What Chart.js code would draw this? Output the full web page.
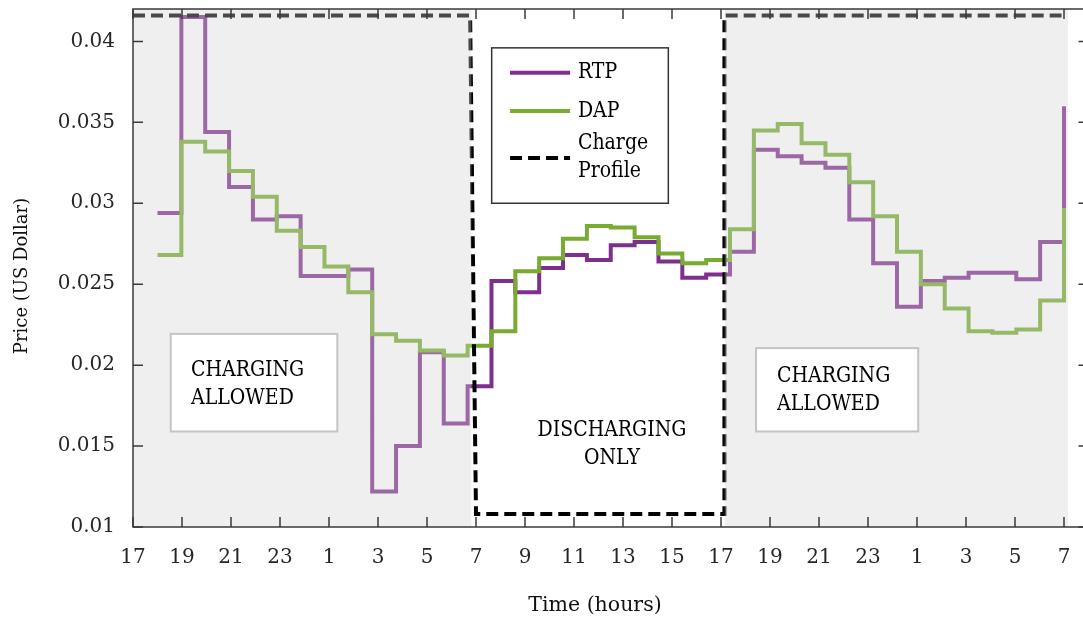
<!DOCTYPE html>
<html>
<head>
<meta charset="utf-8">
<script src="https://cdn.jsdelivr.net/npm/chart.js@4.4.1/dist/chart.umd.min.js"></script>
<style>
  html, body { margin: 0; padding: 0; background: #fff; overflow: hidden; }
  #wrap { width: 1090px; height: 624px; }
</style>
</head>
<body>
<div id="wrap"><canvas id="priceChart" width="1090" height="624"></canvas></div>
<script>
// Prices sampled over 38 hours starting at 18:00 (hours counted from 17:00)
const firstSampleHour = 1;
const sampleSpacing = 37 / 38;

const rtp = [0.0294, 0.0415, 0.0344, 0.0310, 0.0290, 0.0292, 0.0255, 0.0255, 0.0259, 0.0122,
             0.0150, 0.0208, 0.0164, 0.0187, 0.0252, 0.0245, 0.0260, 0.0268, 0.0265, 0.0274,
             0.0276, 0.0264, 0.0254, 0.0256, 0.0270, 0.0333, 0.0329, 0.0325, 0.0322, 0.0290,
             0.0263, 0.0236, 0.0252, 0.0254, 0.0257, 0.0257, 0.0253, 0.0276, 0.0360];
const dap = [0.0268, 0.0338, 0.0332, 0.0320, 0.0304, 0.0283, 0.0273, 0.0261, 0.0245, 0.0219,
             0.0215, 0.0209, 0.0206, 0.0212, 0.0221, 0.0258, 0.0266, 0.0278, 0.0286, 0.0285,
             0.0279, 0.0269, 0.0263, 0.0265, 0.0284, 0.0345, 0.0349, 0.0337, 0.0330, 0.0313,
             0.0292, 0.0270, 0.0250, 0.0235, 0.0221, 0.0220, 0.0222, 0.0240, 0.0297];

// charge profile: high while charging is allowed, low while discharging only
const profileHours = [0, 13.76, 14.0, 24.14, 24.14, 37.9];
const profileLevels = [0.0416, 0.0416, 0.0108, 0.0108, 0.0416, 0.0416];

// hour spans shaded as "charging allowed"
const shadeSpans = [[0, 13.82], [24.14, 38.16]];

const hourMin = 0, hourMax = 39;
const priceMin = 0.01, priceMax = 0.042;
const startClock = 17;

const sampleHours = rtp.map((_, i) => firstSampleHour + i * sampleSpacing);
const toPoints = (xs, ys) => xs.map((x, i) => ({ x: x, y: ys[i] }));

const serif = 'DejaVu Serif';
const shadeColor = 'rgba(209,209,209,0.35)';

// text boxes and legend, placed in hour / price coordinates
const notes = [
  { box: [1.54, 0.02193, 8.34, 0.0159], at: [2.37, 0.01971], align: 'left', lines: ['CHARGING', 'ALLOWED'] },
  { box: [25.43, 0.02105, 32.05, 0.0159], at: [26.29, 0.0193], align: 'left', lines: ['CHARGING', 'ALLOWED'] },
  { box: null, at: [19.55, 0.0160], align: 'center', lines: ['DISCHARGING', 'ONLY'] }
];
const legendBox = [14.64, 0.0396, 21.85, 0.0300];
const legendItems = [
  { y: 0.03806, lines: ['RTP'] },
  { y: 0.03570, lines: ['DAP'] },
  { y: 0.03280, lines: ['Charge', 'Profile'] }
];
const legendLineFrom = 15.39, legendLineTo = 17.84, legendTextAt = 18.16;
const lineGap = 28;

// slightly narrowed serif text for the labels inside the plot
function noteText(ctx, text, x, y, align) {
  ctx.save();
  ctx.translate(x, y);
  ctx.scale(0.86, 1);
  ctx.textAlign = align;
  ctx.fillText(text, 0, 0);
  ctx.restore();
}

const decorPlugin = {
  id: 'decor',
  afterDatasetsDraw(chart) {
    const { ctx } = chart;
    const X = v => chart.scales.x.getPixelForValue(v);
    const Y = v => chart.scales.y.getPixelForValue(v);
    ctx.save();
    ctx.font = '22px "' + serif + '"';
    ctx.textBaseline = 'middle';

    notes.forEach(n => {
      if (n.box) {
        const x0 = X(n.box[0]), y0 = Y(n.box[1]), x1 = X(n.box[2]), y1 = Y(n.box[3]);
        ctx.fillStyle = '#fff';
        ctx.fillRect(x0, y0, x1 - x0, y1 - y0);
        ctx.strokeStyle = '#c4c4c4';
        ctx.lineWidth = 2;
        ctx.strokeRect(x0, y0, x1 - x0, y1 - y0);
      }
      ctx.fillStyle = '#000';
      n.lines.forEach((t, k) => noteText(ctx, t, X(n.at[0]), Y(n.at[1]) + k * lineGap, n.align));
    });

    // legend
    const lx0 = X(legendBox[0]), ly0 = Y(legendBox[1]), lx1 = X(legendBox[2]), ly1 = Y(legendBox[3]);
    ctx.fillStyle = '#fff';
    ctx.fillRect(lx0, ly0, lx1 - lx0, ly1 - ly0);
    ctx.strokeStyle = '#333';
    ctx.lineWidth = 1.5;
    ctx.strokeRect(lx0, ly0, lx1 - lx0, ly1 - ly0);
    legendItems.forEach((item, i) => {
      const ds = chart.data.datasets[i];
      const yy = Y(item.y);
      ctx.strokeStyle = ds.borderColor;
      ctx.lineWidth = ds.borderWidth;
      ctx.setLineDash(ds.borderDash || []);
      ctx.beginPath();
      ctx.moveTo(X(legendLineFrom), yy);
      ctx.lineTo(X(legendLineTo), yy);
      ctx.stroke();
      ctx.setLineDash([]);
      ctx.fillStyle = '#000';
      const first = yy - (item.lines.length - 1) * lineGap / 2 - (item.lines.length > 1 ? 1 : 0);
      item.lines.forEach((t, k) => noteText(ctx, t, X(legendTextAt), first + k * lineGap, 'left'));
    });
    ctx.restore();
  },
  afterDraw(chart) {
    const { ctx, chartArea: a } = chart;
    const xs = chart.scales.x, ys = chart.scales.y;
    ctx.save();
    ctx.strokeStyle = '#3a3a3a';
    ctx.lineWidth = 1.5;
    ctx.strokeRect(a.left, a.top, a.right - a.left, a.bottom - a.top);
    ctx.beginPath();
    xs.ticks.forEach(t => {
      const p = xs.getPixelForValue(t.value);
      ctx.moveTo(p, a.bottom); ctx.lineTo(p, a.bottom - 10);
      ctx.moveTo(p, a.top); ctx.lineTo(p, a.top + 10);
    });
    ys.ticks.forEach(t => {
      const p = ys.getPixelForValue(t.value);
      ctx.moveTo(a.left, p); ctx.lineTo(a.left + 10, p);
      ctx.moveTo(a.right, p); ctx.lineTo(a.right - 10, p);
    });
    ctx.stroke();

    // axis titles
    ctx.fillStyle = '#111';
    ctx.textAlign = 'center';
    ctx.textBaseline = 'middle';
    ctx.font = '20.5px "' + serif + '"';
    ctx.fillText('Time (hours)', 595, 606);
    ctx.font = '18px "' + serif + '"';
    ctx.translate(22, 276);
    ctx.rotate(-Math.PI / 2);
    ctx.fillText('Price (US Dollar)', 0, 0);
    ctx.restore();
  }
};

// fixed axis boxes so the plot area sits where it should
const noEdgePadding = s => {
  s.paddingTop = 0; s.paddingBottom = 0; s.paddingLeft = 0; s.paddingRight = 0;
};

new Chart(document.getElementById('priceChart'), {
  type: 'line',
  data: {
    datasets: [
      { label: 'RTP', data: toPoints(sampleHours, rtp), borderColor: '#7e2f8e', borderWidth: 4,
        stepped: 'before', pointRadius: 0, fill: false, order: 3 },
      { label: 'DAP', data: toPoints(sampleHours, dap), borderColor: '#77ac30', borderWidth: 4,
        stepped: 'before', pointRadius: 0, fill: false, order: 2 },
      { label: 'Charge Profile', data: toPoints(profileHours, profileLevels), borderColor: '#000',
        borderWidth: 4, borderDash: [12, 6], pointRadius: 0, fill: false, order: 1 },
      ...shadeSpans.map(span => ({
        label: 'shade', data: toPoints(span, [priceMax, priceMax]), borderWidth: 0,
        borderColor: 'rgba(0,0,0,0)', backgroundColor: shadeColor, fill: 'start', pointRadius: 0, order: 0
      }))
    ]
  },
  options: {
    responsive: false,
    animation: false,
    devicePixelRatio: 1,
    layout: { padding: { top: 9, right: 1.5, left: 0, bottom: 0 } },
    plugins: { legend: { display: false }, tooltip: { enabled: false } },
    scales: {
      x: {
        type: 'linear', min: hourMin, max: hourMax,
        grid: { display: false, drawTicks: false }, border: { display: false },
        afterFit: s => { s.height = 97; noEdgePadding(s); },
        ticks: {
          stepSize: 2, includeBounds: false, autoSkip: false, maxRotation: 0, padding: 19, color: '#262626',
          font: { family: serif, size: 20 },
          callback: v => String((startClock + v) % 24)
        }
      },
      y: {
        min: priceMin, max: priceMax,
        grid: { display: false, drawTicks: false }, border: { display: false },
        afterFit: s => { s.width = 133; noEdgePadding(s); },
        ticks: {
          stepSize: 0.005, includeBounds: false, padding: 18, color: '#262626',
          font: { family: serif, size: 20 },
          callback: v => String(+v.toFixed(3))
        }
      }
    }
  },
  plugins: [decorPlugin]
});
</script>
</body>
</html>
